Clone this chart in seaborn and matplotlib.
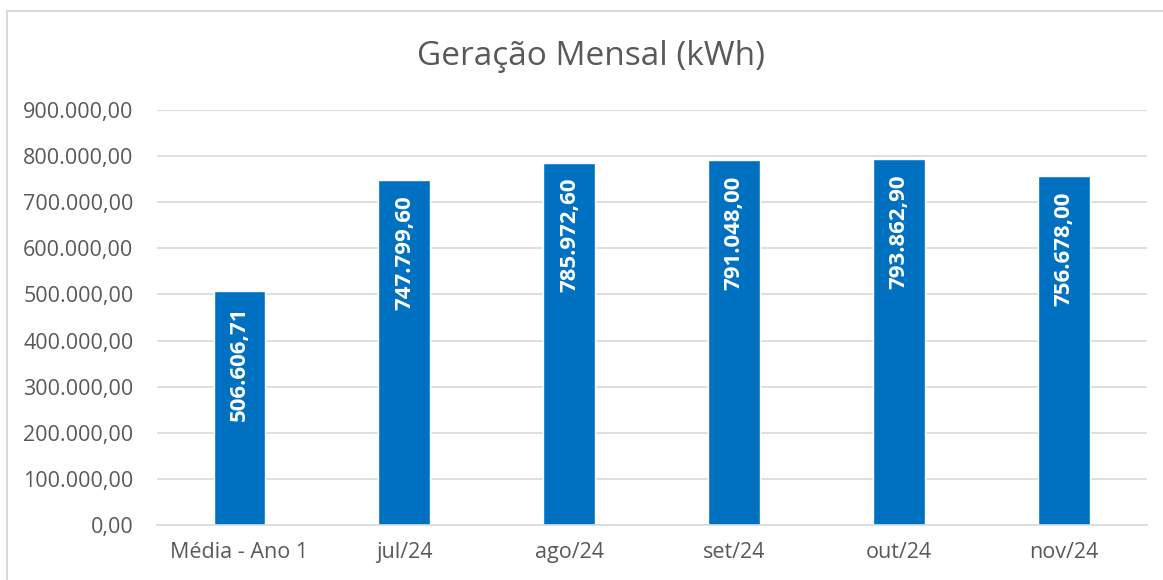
import matplotlib
matplotlib.use("Agg")
import matplotlib.pyplot as plt
import seaborn as sns
import pandas as pd
from matplotlib.patches import Rectangle
from matplotlib.ticker import FuncFormatter

# data
categories = ["Média - Ano 1", "jul/24", "ago/24", "set/24", "out/24", "nov/24"]
values = [506606.71, 747799.60, 785972.60, 791048.00, 793862.90, 756678.00]
df = pd.DataFrame({"mes": categories, "kwh": values})

#helpers
def br_fmt(v, pos=None):
    s = f"{v:,.2f}"
    return s.replace(",", "X").replace(".", ",").replace("X", ".")

sns.set_style("white")
plt.rcParams["font.family"] = ["Open Sans", "DejaVu Sans"]

fig = plt.figure(figsize=(11.63, 5.8), dpi=100)
ax = fig.add_axes([0.135, 0.0948, 0.851, 0.7155])

sns.barplot(data=df, x="mes", y="kwh", color="#0070C0", saturation=1,
            width=0.315, ax=ax)

ax.set_ylim(0, 900000)
ax.set_xlim(-0.5, len(categories) - 0.5)
ax.set_yticks(range(0, 900001, 100000))
ax.yaxis.set_major_formatter(FuncFormatter(br_fmt))
ax.grid(axis="y", color="#D9D9D9", linewidth=1.2)
ax.set_axisbelow(True)
for s in ["top", "right", "left"]:
    ax.spines[s].set_visible(False)
ax.spines["bottom"].set_color("#D9D9D9")
ax.spines["bottom"].set_linewidth(1.2)
ax.tick_params(axis="both", length=0, labelsize=15.5, labelcolor="#595959")
ax.tick_params(axis="y", pad=17)
ax.tick_params(axis="x", pad=12)
ax.set_xlabel("")
ax.set_ylabel("")

# value labels inside bars
for i, v in enumerate(values):
    ax.annotate(br_fmt(v), xy=(i, v), xytext=(0, -11), textcoords="offset points",
                rotation=90, ha="center", va="top", color="white",
                fontsize=16, fontweight="bold")

fig.text(591 / 1163, 0.902, "Geração Mensal (kWh)", ha="center", va="center",
         fontsize=24, color="#595959")

# chart frame (left/top edges visible)
fig.patches.append(Rectangle((7 / 1163, -0.1), 1.2, (580 - 11) / 580 + 0.1,
                             transform=fig.transFigure, fill=False,
                             edgecolor="#D9D9D9", linewidth=1.5))

fig.savefig("out.png", dpi=100, facecolor="white")
